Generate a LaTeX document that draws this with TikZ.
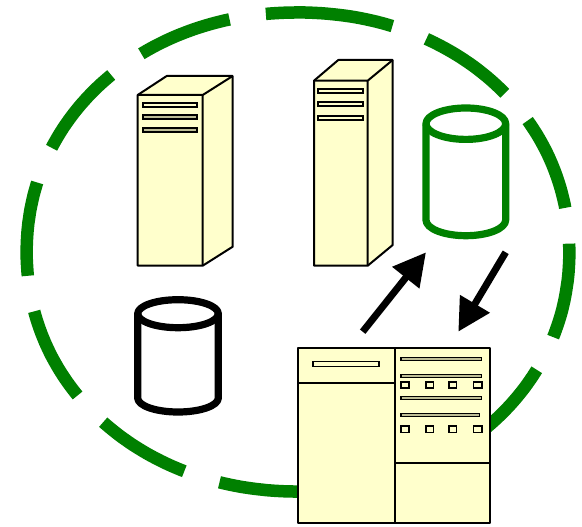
\documentclass[tikz,border=0pt]{standalone}
\usetikzlibrary{arrows.meta}
\definecolor{ringgreen}{RGB}{0,128,0}
\definecolor{cream}{RGB}{255,255,204}
\definecolor{slotgrey}{RGB}{190,190,150}
\tikzset{
  declare function={rhoo(\t)=1/((abs(cos(\t))+0.0001)^2.06+(abs(sin(\t))+0.0001)^2.06)^0.4854;},
  ring/.style={draw=ringgreen,line width=12.5pt,line cap=butt,line join=round},
  box/.style={draw=black,fill=cream,line width=2pt,line join=round},
  inner/.style={draw=black,line width=2pt},
  slot/.style={draw=black,fill=slotgrey,line width=1.8pt},
  slotlight/.style={draw=black,fill=cream,line width=1.8pt},
  thinslot/.style={draw=black,fill=slotgrey,line width=1.2pt},
  chip/.style={draw=black,fill=cream,line width=1.6pt},
  flow/.style={draw=black,line width=7pt,-{Triangle[length=32.5pt,width=33pt]}},
  cyl/.style={line width=7.2pt,fill=white,line join=round},
}
\newcommand{\ringseg}[2]{\draw[ring] plot[domain=#1:#2,samples=24] ({298+271.4*rhoo(\x)*cos(\x)},{252+239.6*rhoo(\x)*sin(\x)});}
\newcommand{\cylshape}[6]{%
  \draw[cyl,draw=#1] (#3,#5) arc[start angle=180,end angle=360,x radius=#6,y radius=\cylry]
    -- (#4,#2) arc[start angle=0,end angle=180,x radius=#6,y radius=\cylry] -- cycle;
  \draw[cyl,draw=#1,fill=none] (#3,#5) arc[start angle=180,end angle=0,x radius=#6,y radius=\cylry];
}
\begin{document}
\begin{tikzpicture}[x=1pt,y=-1pt]
\useasboundingbox (0,0) rectangle (582,527);
\fill[white] (0,0) rectangle (582,527);
% dashed ring
\ringseg{235.1}{255.44}
\ringseg{205.6}{227.03}
\ringseg{174.3}{196.8}
\ringseg{143.6}{165.7}
\ringseg{114.6}{135.3}
\ringseg{89}{106.75}
\ringseg{263.2}{290.25}
\ringseg{298}{319}
\ringseg{327.05}{349.4}
\ringseg{-2}{20.7}
\ringseg{29.2}{48}
% server 1
\draw[box] (137.7,95) -- (166.7,76) -- (232.7,76) -- (232.7,246.7) -- (202.7,265.7) -- (137.7,265.7) -- cycle;
\draw[inner] (137.7,95) -- (202.7,95) -- (232.7,76) (202.7,95) -- (202.7,265.7);
\draw[slotlight] (143,102.7) rectangle (197.3,106.7);
\draw[slot] (143,115) rectangle (197.3,119);
\draw[slot] (143,128) rectangle (197.3,132);
% server 2
\draw[box] (314,80.7) -- (338.3,60) -- (392.7,60) -- (392.7,245) -- (367.7,265.7) -- (314,265.7) -- cycle;
\draw[inner] (314,80.7) -- (367.7,80.7) -- (392.7,60) (367.7,80.7) -- (367.7,265.7);
\draw[slotlight] (317.7,88.7) rectangle (363.3,92.7);
\draw[slotlight] (317.7,102.3) rectangle (363.3,106.3);
\draw[slotlight] (317.7,116.3) rectangle (363.3,120.3);
% cylinders
\def\cylry{15.7}
\cylshape{ringgreen}{220}{426}{505.7}{123.7}{39.85}
\def\cylry{14}
\cylshape{black}{398}{137.7}{218.3}{313.7}{40.3}
% arrows
\coordinate (a1s) at (362.7,331.7);
\coordinate (a1e) at (426,252.3);
\coordinate (a2s) at (505.7,252.3);
\coordinate (a2e) at (458.3,331.7);
\draw[flow] (a1s) -- (a1e);
\draw[flow] (a2s) -- (a2e);
% rack unit
\draw[box] (298,348) rectangle (490,523.3);
\draw[inner] (395,348) -- (395,523.3) (298,383.3) -- (395,383.3) (395,463.3) -- (490,463.3);
\draw[slotlight] (312.7,361.5) rectangle (378.7,366.5);
\foreach \yy/\xe in {359.3/481.7,375.7/481.7,398.3/481.7,415/479.3}
  \draw[thinslot] (401,\yy-1.5) rectangle (\xe,\yy+1.5);
\foreach \xa/\xb in {401/408.7,426/433.3,448.7/456.3,473.5/481.7}{
  \draw[chip] (\xa,381.7) rectangle (\xb,388);
  \draw[chip] (\xa,426) rectangle (\xb,432.3);
}
\end{tikzpicture}
\end{document}
